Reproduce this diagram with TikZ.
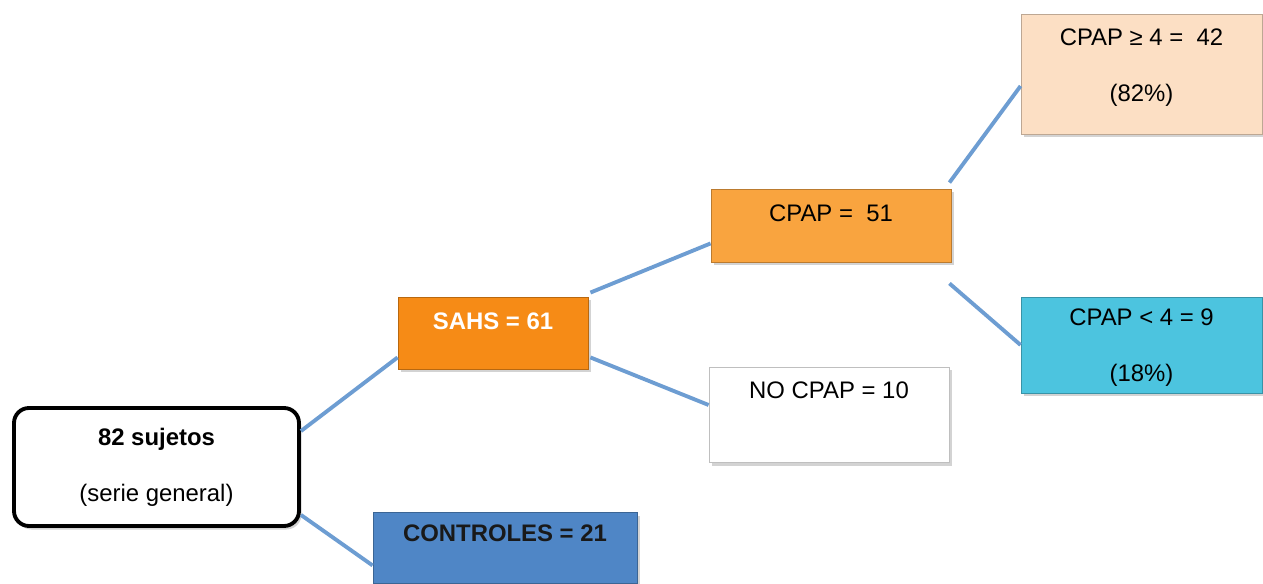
\documentclass[tikz,border=0pt]{standalone}
\usepackage{fontspec}
\setmainfont{Liberation Sans}
\usepackage{tikz}
\usetikzlibrary{shadows, calc}

\definecolor{naranja}{HTML}{F68B16}
\definecolor{naranjaclaro}{HTML}{F9A43F}
\definecolor{melocoton}{HTML}{FCDFC4}
\definecolor{cian}{HTML}{4CC4DF}
\definecolor{azul}{HTML}{4F86C6}
\definecolor{linea}{HTML}{6D9DD2}

\tikzset{
  caja/.style={draw=#1!75!black, fill=#1, line width=0.5pt, align=center,
    font=\fontsize{13.6}{16}\selectfont,
    drop shadow={shadow xshift=0.05cm, shadow yshift=-0.07cm, opacity=0.35}},
  rama/.style={draw=linea, line width=2.2pt},
}

\begin{document}
\begin{tikzpicture}
            \useasboundingbox (0,0) rectangle (25.26,11.66);
            % cajas
            \node[draw=black, fill=white, line width=2.2pt, rounded corners=0.3cm, align=center,
                  font=\fontsize{13.6}{16}\selectfont, minimum width=5.7cm, minimum height=2.36cm,
                  drop shadow={shadow xshift=0.05cm, shadow yshift=-0.07cm, opacity=0.35}]
                  (raiz) at (3.13,2.32) {\textbf{82 sujetos}\\\strut\\(serie general)};
            \node[caja=naranja, text=white, minimum width=3.8cm, minimum height=1.44cm, text depth=0.48cm]
                  (sahs) at (9.86,5.0) {\textbf{SAHS = 61}};
            \node[caja=azul, text=black!90, minimum width=5.28cm, minimum height=1.42cm, text depth=0.58cm]
                  (ctl) at (10.1,0.71) {\textbf{CONTROLES = 21}};
            \node[caja=naranjaclaro, minimum width=4.8cm, minimum height=1.46cm, text depth=0.5cm]
                  (cpap) at (16.62,7.15) {CPAP = \ 51};
            \node[caja=white, draw=black!25, minimum width=4.8cm, minimum height=1.9cm, text depth=0.98cm]
                  (nocpap) at (16.58,3.37) {NO CPAP = 10};
            \node[caja=melocoton, minimum width=4.82cm, minimum height=2.4cm, text depth=0.34cm]
                  (mayor) at (22.83,10.18) {CPAP ≥ 4 = \ 42\\\strut\\(82\%)};
            \node[caja=cian, minimum width=4.82cm, minimum height=1.92cm, text depth=0pt]
                  (menor) at (22.83,4.76) {CPAP < 4 = 9\\\strut\\(18\%)};
            % ramas
            \draw[rama] ([yshift=-0.5cm]raiz.north east) -- ([yshift=0.24cm]sahs.south west);
            \draw[rama] ([yshift=0.26cm]raiz.south east) -- ([yshift=0.36cm]ctl.south west);
            \draw[rama] ([xshift=0.04cm,yshift=0.08cm]sahs.north east) -- ([yshift=0.38cm]cpap.south west);
            \draw[rama] ([xshift=0.04cm,yshift=0.24cm]sahs.south east) -- ([yshift=0.19cm]nocpap.west);
            \draw[rama] ([xshift=-0.04cm,yshift=0.12cm]cpap.north east) -- ([yshift=-0.24cm]mayor.west);
            \draw[rama] ([xshift=-0.04cm,yshift=-0.42cm]cpap.south east) -- (menor.west);
\end{tikzpicture}
\end{document}
